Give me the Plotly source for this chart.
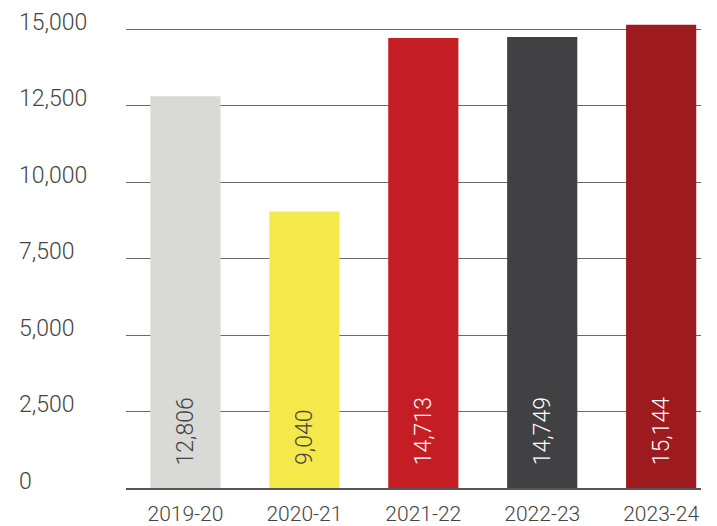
import plotly.graph_objects as go

# Annual totals by financial year
years = ["2019-20", "2020-21", "2021-22", "2022-23", "2023-24"]
totals = [12806, 9040, 14713, 14749, 15144]
bar_colors = ["#d9dad6", "#f5e84a", "#c41e24", "#414143", "#9d1a1e"]
label_colors = ["#444444", "#444444", "#ffffff", "#ffffff", "#ffffff"]
y_ticks = [0, 2500, 5000, 7500, 10000, 12500, 15000]

FONT = "Roboto"
WEIGHT = 300
TEXT = "#444444"

fig = go.Figure(
    go.Bar(
        x=list(range(len(years))),
        y=totals,
        marker=dict(color=bar_colors, line=dict(width=0)),
        hoverinfo="skip",
    )
)

annotations = []
# Value labels, rotated, sitting near the base of each bar
for i, (v, c) in enumerate(zip(totals, label_colors)):
    annotations.append(dict(
        x=i, y=0, xref="x", yref="y",
        text=f"{v:,}", textangle=-90, showarrow=False,
        xanchor="center", yanchor="bottom", yshift=21,
        font=dict(family=FONT, size=23, color=c, weight=WEIGHT),
    ))

# Left-aligned y tick labels
for t in y_ticks:
    annotations.append(dict(
        x=-0.1896, y=t, xref="paper", yref="y",
        text=f"{t:,}", showarrow=False,
        xanchor="left", yanchor="middle", yshift=7,
        font=dict(family=FONT, size=23, color=TEXT, weight=WEIGHT),
    ))

fig.update_layout(
    width=717, height=526,
    margin=dict(l=126, r=16, t=17, b=38, autoexpand=False),
    paper_bgcolor="white", plot_bgcolor="white",
    bargap=0.41,
    showlegend=False,
    annotations=annotations,
    font=dict(family=FONT, size=21, color=TEXT, weight=WEIGHT),
)
fig.update_xaxes(
    range=[-0.5, 4.335], automargin=False,
    tickmode="array", tickvals=list(range(len(years))), ticktext=years,
    tickfont=dict(family=FONT, size=21, color=TEXT, weight=WEIGHT),
    showgrid=False, zeroline=False,
    showline=True, linecolor="#555555", linewidth=2,
    ticks="", ticklabelstandoff=6,
)
fig.update_yaxes(
    range=[0, 15400], automargin=False,
    tickvals=y_ticks, showticklabels=False,
    showgrid=True, gridcolor="#6a6a6a", gridwidth=1,
    zeroline=False, showline=False, ticks="",
)

fig.write_html("out.html")
